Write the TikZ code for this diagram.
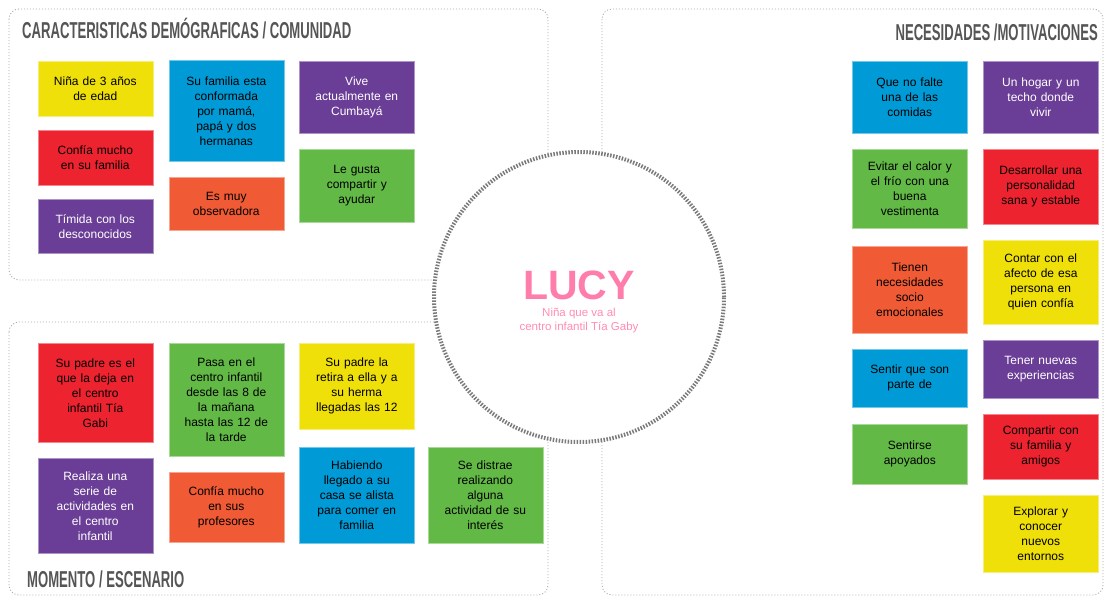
\documentclass[tikz,border=0pt]{standalone}
\usepackage{fontspec}
\setmainfont{Liberation Sans}
\newfontfamily\titlefont[FakeStretch=0.57]{Liberation Sans Bold}
\newfontfamily\cardfont{Liberation Sans}
\definecolor{cyellow}{HTML}{F0E00A}
\definecolor{cblue}{HTML}{009BD6}
\definecolor{cpurple}{HTML}{6A3D96}
\definecolor{cred}{HTML}{EE2330}
\definecolor{corange}{HTML}{F05A35}
\definecolor{cgreen}{HTML}{62B946}
\definecolor{ctitle}{HTML}{555555}
\definecolor{cpink}{HTML}{FF7DAB}
\definecolor{cpinklight}{HTML}{FF8DB6}
\definecolor{cpanel}{HTML}{AAAAAA}
\definecolor{cring}{HTML}{7A7A7A}
\tikzset{
  panel/.style={draw=cpanel, line width=0.9pt, dash pattern=on 1pt off 2pt, rounded corners=10pt},
  card/.style={draw=#1!55!white, line width=0.6pt, fill=#1, anchor=north west,
    minimum width=115pt, text width=112pt, align=center, inner sep=1pt,
    font=\cardfont\fontsize{12pt}{15pt}\selectfont, text=black},
  wcard/.style={card=#1, text=white},
  paneltitle/.style={font=\titlefont\fontsize{23pt}{24pt}\selectfont, text=ctitle, inner sep=0pt},
}
\begin{document}
\begin{tikzpicture}[x=1pt,y=-1pt]
\useasboundingbox (0,0) rectangle (1108,597);
\fill[white] (0,0) rectangle (1108,597);
% panels
\draw[panel] (9,9) rectangle (548,280);
\draw[panel] (9,322) rectangle (548,595);
\draw[panel] (602,9) rectangle (1103,595);
% center circle
\node[circle, fill=white, draw=cring, line width=4pt, dash pattern=on 1.5pt off 1.5pt,
  minimum size=290pt, inner sep=0pt] (ring) at (579,297) {};
\node[anchor=base, font=\bfseries\fontsize{41pt}{41pt}\selectfont, text=cpink, inner sep=0pt] (lucy) at (579,299) {LUCY};
\node[anchor=base, font=\fontsize{11.5pt}{14pt}\selectfont, text=cpinklight, align=center, inner sep=0pt] (sub) at (579,330) {Niña que va al\\centro infantil Tía Gaby};
% titles
\node[paneltitle, anchor=base west] (t1) at (22,38) {CARACTERISTICAS DEMÓGRAFICAS / COMUNIDAD};
\node[paneltitle, anchor=base east] (t2) at (1098,40) {NECESIDADES /MOTIVACIONES};
\node[paneltitle, anchor=base west] (t3) at (27,587) {MOMENTO / ESCENARIO};
% top-left cards
\node[card=cyellow, minimum height=55pt] (a1) at (37.5,61) {Niña de 3 años\\de edad};
\node[card=cred, minimum height=55pt] (a2) at (37.5,130) {Confía mucho\\en su familia};
\node[wcard=cpurple, minimum height=54pt] (a3) at (37.5,199) {Tímida con los\\desconocidos};
\node[card=cblue, minimum height=101pt] (a4) at (168.5,60) {Su familia esta\\conformada\\por mamá,\\papá y dos\\hermanas};
\node[card=corange, minimum height=53pt] (a5) at (168.5,177) {Es muy\\observadora};
\node[wcard=cpurple, minimum height=72pt] (a6) at (299,61) {Vive\\actualmente en\\Cumbayá};
\node[card=cgreen, minimum height=73pt] (a7) at (299,149) {Le gusta\\compartir y\\ayudar};
% bottom-left cards
\node[card=cred, minimum height=99pt] (b1) at (37.5,343) {Su padre es el\\que la deja en\\el centro\\infantil Tía\\Gabi};
\node[wcard=cpurple, minimum height=95pt] (b2) at (37.5,458) {Realiza una\\serie de\\actividades en\\el centro\\infantil};
\node[card=cgreen, minimum height=113pt] (b3) at (168.5,343) {Pasa en el\\centro infantil\\desde las 8 de\\la mañana\\hasta las 12 de\\la tarde};
\node[card=corange, minimum height=70pt] (b4) at (168.5,472) {Confía mucho\\en sus\\profesores};
\node[card=cyellow, minimum height=86pt] (b5) at (299,343) {Su padre la\\retira a ella y a\\su herma\\llegadas las 12};
\node[card=cblue, minimum height=96pt] (b6) at (299,447) {Habiendo\\llegado a su\\casa se alista\\para comer en\\familia};
\node[card=cgreen, minimum height=96pt] (b7) at (427.5,447) {Se distrae\\realizando\\alguna\\actividad de su\\interés};
% right cards col 1
\node[card=cblue, minimum height=72pt] (c1) at (852,61) {Que no falte\\una de las\\comidas};
\node[card=cgreen, minimum height=79pt] (c2) at (852,149) {Evitar el calor y\\el frío con una\\buena\\vestimenta};
\node[card=corange, minimum height=87pt] (c3) at (852,246) {Tienen\\necesidades\\socio\\emocionales};
\node[card=cblue, minimum height=58pt] (c4) at (852,349) {Sentir que son\\parte de};
\node[card=cgreen, minimum height=60pt] (c5) at (852,424) {Sentirse\\apoyados};
% right cards col 2
\node[wcard=cpurple, minimum height=72pt] (d1) at (983,61) {Un hogar y un\\techo donde\\vivir};
\node[card=cred, minimum height=75pt] (d2) at (983,149) {Desarrollar una\\personalidad\\sana y estable};
\node[card=cyellow, minimum height=84pt] (d3) at (983,240) {Contar con el\\afecto de esa\\persona en\\quien confía};
\node[wcard=cpurple, minimum height=58pt] (d4) at (983,340) {Tener nuevas\\experiencias};
\node[card=cred, minimum height=65pt] (d5) at (983,414) {Compartir con\\su familia y\\amigos};
\node[card=cyellow, minimum height=77pt] (d6) at (983,495) {Explorar y\\conocer\\nuevos\\entornos};
\end{tikzpicture}
\end{document}
